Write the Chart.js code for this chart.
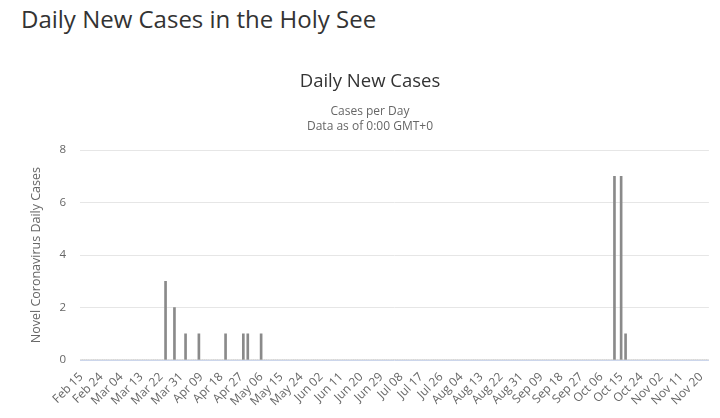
<!DOCTYPE html>
<html>
<head>
<meta charset="utf-8">
<script src="https://cdn.jsdelivr.net/npm/chart.js@4"></script>
<style>
  body { margin: 0; background: #fff; width: 720px; height: 418px; overflow: hidden; position: relative; }
  h1 {
    position: absolute; left: 21px; top: 2px; margin: 0;
    font: 400 24px "Open Sans", sans-serif; color: #333;
  }
  #wrap { position: absolute; left: 0; top: 50px; width: 720px; height: 368px; }
</style>
</head>
<body>
<h1>Daily New Cases in the Holy See</h1>
<div id="wrap"><canvas id="chart"></canvas></div>
<script>
// x axis runs one bar per day, Feb 15 to Nov 23 (2020)
const firstDay = new Date(2020, 1, 15);
const dayCount = 283;
const monthNames = ["Jan", "Feb", "Mar", "Apr", "May", "Jun", "Jul", "Aug", "Sep", "Oct", "Nov", "Dec"];

const tickLabels = ["Feb 15", "Feb 24", "Mar 04", "Mar 13", "Mar 22", "Mar 31", "Apr 09", "Apr 18",
  "Apr 27", "May 06", "May 15", "May 24", "Jun 02", "Jun 11", "Jun 20", "Jun 29", "Jul 08", "Jul 17",
  "Jul 26", "Aug 04", "Aug 13", "Aug 22", "Aug 31", "Sep 09", "Sep 18", "Sep 27", "Oct 06", "Oct 15",
  "Oct 24", "Nov 02", "Nov 11", "Nov 20"];

// days with new cases (all other days are 0)
const caseDates = ["Mar 24", "Mar 28", "Apr 02", "Apr 08", "Apr 20", "Apr 28", "Apr 30", "May 06",
  "Oct 12", "Oct 15", "Oct 17"];
const caseCounts = [3, 2, 1, 1, 1, 1, 1, 1, 7, 7, 1];

const categories = [];
for (let i = 0; i < dayCount; i++) {
  const d = new Date(firstDay.getFullYear(), firstDay.getMonth(), firstDay.getDate() + i);
  categories.push(monthNames[d.getMonth()] + " " + String(d.getDate()).padStart(2, "0"));
}
const dailyCases = categories.map(c => {
  const k = caseDates.indexOf(c);
  return k >= 0 ? caseCounts[k] : 0;
});

const ctx = document.getElementById("chart").getContext("2d");
new Chart(ctx, {
  type: "bar",
  data: {
    labels: categories,
    datasets: [{
      label: "Daily Cases",
      data: dailyCases,
      backgroundColor: "#8a8a8a",
      barThickness: 2,
    }],
  },
  options: {
    responsive: true,
    maintainAspectRatio: false,
    animation: false,
    layout: { padding: { left: 29, right: 9, top: 0, bottom: 0 } },
    plugins: {
      legend: { display: false },
      tooltip: { enabled: false },
      title: {
        display: true,
        text: "Daily New Cases",
        color: "#333",
        font: { family: "Open Sans", size: 18.5, weight: "normal" },
        padding: { top: 21, bottom: 11 },
      },
      subtitle: {
        display: true,
        text: ["Cases per Day", "Data as of 0:00 GMT+0"],
        color: "#666",
        font: { family: "Open Sans", size: 12, lineHeight: 1.25 },
        padding: { top: 0, bottom: 16 },
      },
    },
    scales: {
      x: {
        grid: { display: false },
        border: { color: "#ccd6eb" },
        ticks: {
          autoSkip: false,
          minRotation: 45,
          maxRotation: 45,
          color: "#666",
          font: { family: "Open Sans", size: 12 },
          padding: 2,
          callback: function (val) {
            const lab = this.getLabelForValue(val);
            return tickLabels.includes(lab) && val % 9 === 0 ? lab : "";
          },
        },
        afterFit: s => { s.height = 58; },
      },
      y: {
        min: 0,
        max: 8,
        ticks: { stepSize: 2, color: "#666", font: { family: "Open Sans", size: 11.5 }, padding: 14 },
        grid: {
          drawTicks: false,
          color: c => (c.tick.value === 0 ? "rgba(0,0,0,0)" : "#e6e6e6"),
        },
        border: { display: false },
        title: {
          display: true,
          text: "Novel Coronavirus Daily Cases",
          color: "#666",
          font: { family: "Open Sans", size: 12.5 },
          padding: 0,
        },
        afterFit: s => { s.width = 51; },
      },
    },
  },
});
</script>
</body>
</html>
